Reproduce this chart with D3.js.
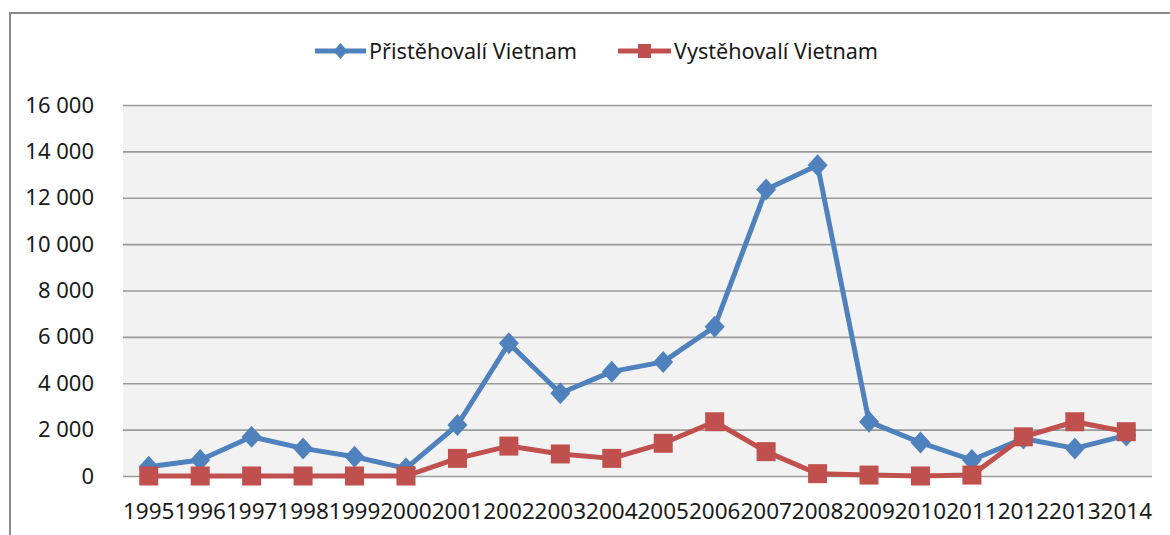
<!DOCTYPE html>
<html>
<head>
<meta charset="utf-8">
<script src="https://cdn.jsdelivr.net/npm/d3@7"></script>
<style>
  html, body { margin: 0; padding: 0; background: #fff; }
  svg { display: block; }
  text { font-family: "Noto Sans", "Open Sans", sans-serif; fill: #1a1a1a; }
</style>
</head>
<body>
<svg id="chart" width="1170" height="535"></svg>
<script>
const years = ["1995","1996","1997","1998","1999","2000","2001","2002","2003","2004",
               "2005","2006","2007","2008","2009","2010","2011","2012","2013","2014"];
const immigrants = [400, 690, 1690, 1190, 830, 330, 2200, 5720, 3570, 4500,
                    4920, 6440, 12360, 13400, 2340, 1440, 690, 1620, 1190, 1750];
const emigrants = [0, 0, 0, 0, 0, 0, 760, 1290, 950, 760,
                   1410, 2340, 1050, 100, 40, 0, 40, 1690, 2340, 1910];
const yTicks = [0, 2000, 4000, 6000, 8000, 10000, 12000, 14000, 16000];
const seriesNames = ["Přistěhovalí Vietnam", "Vystěhovalí Vietnam"];
const seriesColors = ["#4F81BD", "#C0504D"];

const svg = d3.select("#chart");
const plot = { left: 123, right: 1152, top: 105, bottom: 476 };

// outer chart border
svg.append("path")
  .attr("d", `M10,540 L10,13 L1172,13`)
  .attr("fill", "none").attr("stroke", "#8a8a8a").attr("stroke-width", 2);

const x = d3.scaleBand().domain(years).range([plot.left, plot.right]).padding(0);
const y = d3.scaleLinear().domain([0, 16000]).range([plot.bottom, plot.top]);

// plot background
svg.append("rect")
  .attr("x", plot.left).attr("y", plot.top)
  .attr("width", plot.right - plot.left).attr("height", plot.bottom - plot.top)
  .attr("fill", "#F2F2F2");

// gridlines
const fmt = v => v === 0 ? "0" : d3.format(",")(v).replace(/,/g, " ");
const yAxis = d3.axisLeft(y).tickValues(yTicks).tickSize(-(plot.right - plot.left))
  .tickPadding(29).tickFormat(fmt);
const gy = svg.append("g").attr("transform", `translate(${plot.left},0)`).call(yAxis);
gy.select(".domain").remove();
gy.selectAll(".tick line").attr("stroke", "#9a9a9a").attr("stroke-width", 1.6);
gy.selectAll(".tick text").attr("font-size", 22).attr("fill", "#1a1a1a")
  .style("font-family", "'Noto Sans', sans-serif");

// x axis labels
const xAxis = d3.axisBottom(x).tickSize(0).tickPadding(27);
const gx = svg.append("g").attr("transform", `translate(0,${plot.bottom})`).call(xAxis);
gx.select(".domain").remove();
gx.selectAll(".tick text").attr("font-size", 22).attr("fill", "#1a1a1a")
  .style("font-family", "'Noto Sans', sans-serif")
  .attr("textLength", x.bandwidth()).attr("lengthAdjust", "spacingAndGlyphs");

const line = d3.line().x((d, i) => x(years[i]) + x.bandwidth() / 2).y(d => y(d));

// immigrants (blue, diamonds)
svg.append("path").datum(immigrants).attr("d", line)
  .attr("fill", "none").attr("stroke", seriesColors[0]).attr("stroke-width", 5)
  .attr("stroke-linejoin", "round");
svg.append("g").selectAll("path").data(immigrants).join("path")
  .attr("transform", (d, i) => `translate(${x(years[i]) + x.bandwidth() / 2},${y(d)})`)
  .attr("d", "M0,-11 L10,0 L0,11 L-10,0 Z")
  .attr("fill", seriesColors[0]);

// emigrants (red, squares)
svg.append("path").datum(emigrants).attr("d", line)
  .attr("fill", "none").attr("stroke", seriesColors[1]).attr("stroke-width", 5)
  .attr("stroke-linejoin", "round");
svg.append("g").selectAll("rect").data(emigrants).join("rect")
  .attr("x", (d, i) => x(years[i]) + x.bandwidth() / 2 - 9.5)
  .attr("y", d => y(d) - 9.5)
  .attr("width", 19).attr("height", 19)
  .attr("fill", seriesColors[1]);

// legend
const legend = [
  { name: seriesNames[0], color: seriesColors[0], x0: 315, x1: 366, tx: 369, tw: 208, marker: "diamond" },
  { name: seriesNames[1], color: seriesColors[1], x0: 618, x1: 671, tx: 674, tw: 204, marker: "square" }
];
const ly = 51;
const lg = svg.append("g");
legend.forEach(l => {
  lg.append("line").attr("x1", l.x0).attr("x2", l.x1).attr("y1", ly).attr("y2", ly)
    .attr("stroke", l.color).attr("stroke-width", 5);
  const cx = (l.x0 + l.x1) / 2;
  if (l.marker === "diamond") {
    lg.append("path").attr("transform", `translate(${cx},${ly})`)
      .attr("d", "M0,-8 L7,0 L0,8 L-7,0 Z").attr("fill", l.color);
  } else {
    lg.append("rect").attr("x", cx - 6.5).attr("y", ly - 7).attr("width", 13).attr("height", 14)
      .attr("fill", l.color);
  }
  lg.append("text").attr("x", l.tx).attr("y", ly).attr("dy", "0.35em")
    .attr("font-size", 22).attr("textLength", l.tw).attr("lengthAdjust", "spacingAndGlyphs")
    .text(l.name);
});
</script>
</body>
</html>
